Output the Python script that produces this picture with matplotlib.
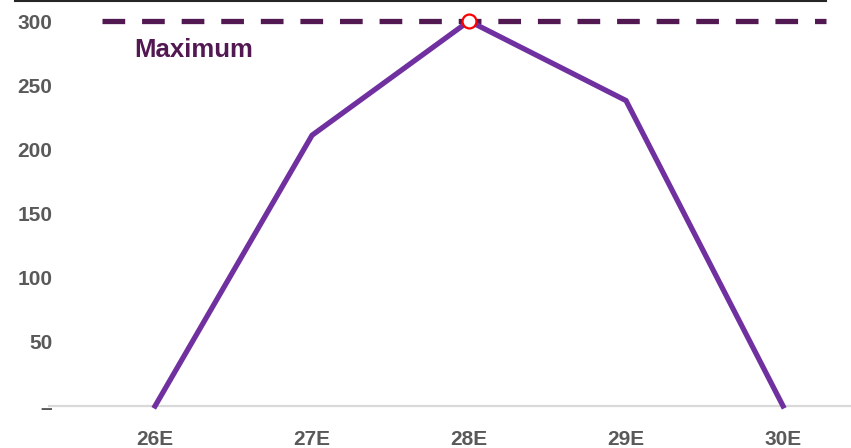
import matplotlib.pyplot as plt
from matplotlib.lines import Line2D

plt.rcParams['font.family'] = ['Liberation Sans', 'DejaVu Sans']

# valeurs par exercice
years = ['26E', '27E', '28E', '29E', '30E']
values = [0, 211, 300, 238, 0]
maximum = 300
yticks = [0, 50, 100, 150, 200, 250, 300]
ytick_labels = ['–', '50', '100', '150', '200', '250', '300']

W, H = 851, 448
fig = plt.figure(figsize=(W / 100, H / 100), dpi=100)

# axes placés en pixels
left, right, top, bottom = 48, 851, 1, 420
ax = fig.add_axes([left / W, 1 - bottom / H, (right - left) / W, (bottom - top) / H])

x = list(range(len(years)))
ax.plot(x, values, color='#7030a0', linewidth=3.8, solid_joinstyle='miter', zorder=3)
peak = values.index(max(values))
ax.plot(x[peak], values[peak], 'o', markersize=10, markerfacecolor='white',
        markeredgecolor='#ff0000', markeredgewidth=1.6, zorder=4)

# ligne du maximum
ax.plot([-0.338, 4.274], [maximum, maximum], color='#521852', linewidth=3.8,
        dashes=(4.3, 3.2), zorder=2)
ax.text(-0.13, maximum - 22.5, 'Maximum', color='#521852', fontsize=18.5,
        fontweight='bold', va='center', ha='left')

ax.axhline(0, color='#d9d9d9', linewidth=1.6, zorder=1)

ax.set_xlim(-0.682, 4.433)
ax.set_ylim(-10.9, 315.6)
ax.set_xticks(x)
ax.set_xticklabels(years)
ax.set_yticks(yticks)
ax.set_yticklabels(ytick_labels)
ax.tick_params(length=0, labelsize=15, labelcolor='#595959')
ax.tick_params(axis='x', pad=7)
ax.tick_params(axis='y', pad=-3)
for lbl in ax.get_xticklabels() + ax.get_yticklabels():
    lbl.set_fontweight('bold')
for s in ax.spines.values():
    s.set_visible(False)

# trait noir en haut
fig.add_artist(Line2D([15 / W, 826 / W], [1 - 1 / H, 1 - 1 / H], color='#262626',
                      linewidth=1.5, transform=fig.transFigure))

fig.savefig('out.png', dpi=100)
